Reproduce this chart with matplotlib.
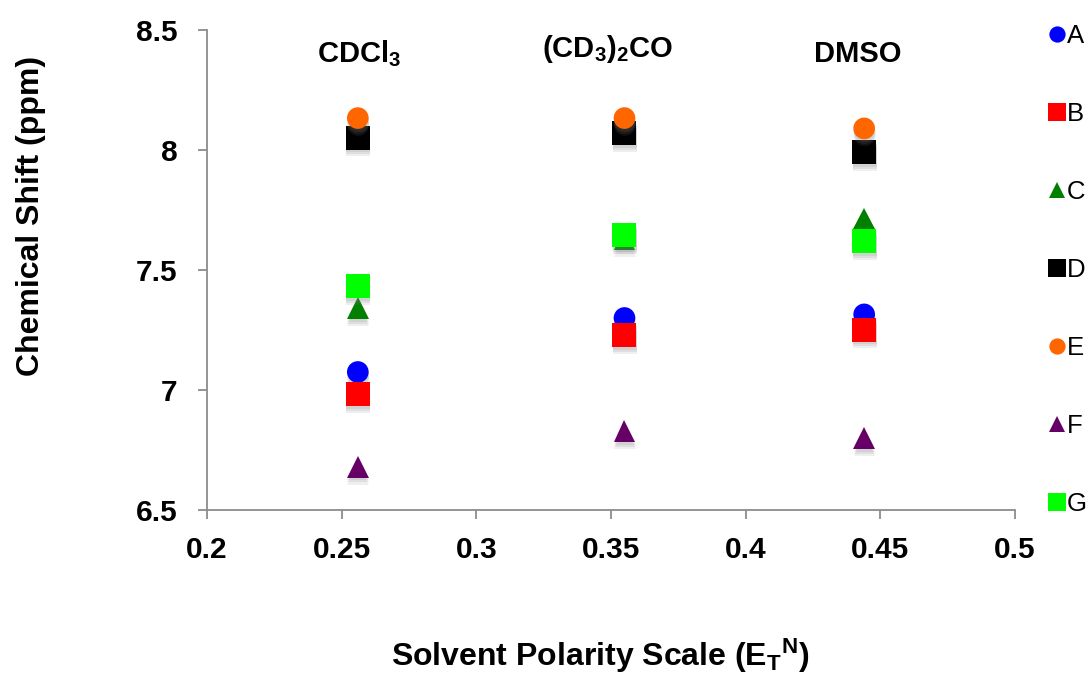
import numpy as np
import matplotlib
matplotlib.use('Agg')
import matplotlib.pyplot as plt
import matplotlib.patheffects as pe

# solvent polarity (E_T^N) for CDCl3, (CD3)2CO, DMSO
et_n = [0.256, 0.355, 0.444]
solvents = ['CDCl$_3$', '(CD$_3$)$_2$CO', 'DMSO']

# chemical shifts (ppm) of the protons A-G in each solvent
shift_A = [7.075, 7.30, 7.315]
shift_B = [6.983, 7.23, 7.252]
shift_C = [7.342, 7.63, 7.714]
shift_D = [8.052, 8.07, 7.99]
shift_E = [8.133, 8.133, 8.09]
shift_F = [6.68, 6.828, 6.80]
shift_G = [7.433, 7.644, 7.622]

labels = ['A', 'B', 'C', 'D', 'E', 'F', 'G']
series = [shift_A, shift_B, shift_C, shift_D, shift_E, shift_F, shift_G]
markers = ['o', 's', '^', 's', 'o', '^', 's']
sizes = [15.6, 17.3, 15.6, 17.3, 15.6, 15.6, 17.3]
colors = ['#0000ff', '#ff0000', '#007f00', '#000000', '#ff6600', '#660066', '#00ff00']

plt.rcParams['font.family'] = ['Liberation Sans', 'DejaVu Sans']
plt.rcParams['mathtext.fontset'] = 'custom'
plt.rcParams['mathtext.rm'] = 'Liberation Sans:bold'
plt.rcParams['mathtext.bf'] = 'Liberation Sans:bold'
plt.rcParams['mathtext.it'] = 'Liberation Sans:bold'
plt.rcParams['mathtext.default'] = 'bf'

fig = plt.figure(figsize=(10.92, 6.75), dpi=100)
ax = fig.add_axes([207 / 1092, 1 - 510 / 675, 808 / 1092, 480 / 675])

# soft drop shadow under each marker
shadow = [pe.SimplePatchShadow(offset=(0.3, -2), shadow_rgbFace='#808080', alpha=0.14),
          pe.SimplePatchShadow(offset=(0.3, -3.5), shadow_rgbFace='#808080', alpha=0.14),
          pe.SimplePatchShadow(offset=(0.3, -5), shadow_rgbFace='#808080', alpha=0.12),
          pe.Normal()]

for lab, ys, m, s, c in zip(labels, series, markers, sizes, colors):
    ax.plot(et_n, ys, linestyle='none', marker=m, markersize=s, color=c,
            markeredgewidth=0, label=lab, path_effects=shadow, clip_on=False)

ax.set_xlim(0.2, 0.5)
ax.set_ylim(6.5, 8.5)
ax.set_xticks([0.2, 0.25, 0.3, 0.35, 0.4, 0.45, 0.5])
ax.set_xticklabels(['0.2', '0.25', '0.3', '0.35', '0.4', '0.45', '0.5'])
ax.set_yticks([6.5, 7, 7.5, 8, 8.5])
ax.set_yticklabels(['6.5', '7', '7.5', '8', '8.5'])

for side in ['top', 'right']:
    ax.spines[side].set_visible(False)
for side in ['left', 'bottom']:
    ax.spines[side].set_color('#8c8c8c')
    ax.spines[side].set_linewidth(1.3)
ax.tick_params(direction='out', length=6.5, width=1.3, color='#8c8c8c',
               labelsize=21.5, pad=12)
ax.tick_params(axis='y', pad=14.5)
for t in ax.get_xticklabels() + ax.get_yticklabels():
    t.set_fontweight('bold')

ax.set_xlabel('Solvent Polarity Scale (E$_T$$^N$)', fontsize=23, fontweight='bold')
ax.xaxis.set_label_coords(0.487, -0.264)
ax.set_ylabel('Chemical Shift (ppm)', fontsize=23, fontweight='bold')
ax.yaxis.set_label_coords(-0.199, 0.6125)

# solvent names above each column
name_x = [0.2565, 0.3485, 0.4415]
name_y = [8.367, 8.388, 8.367]
for x, y, name in zip(name_x, name_y, solvents):
    ax.text(x, y, name, ha='center', va='baseline', fontsize=21, fontweight='bold')

leg = fig.legend(loc='upper left', bbox_to_anchor=(1051 / 1092, 1 - 24 / 675),
                 frameon=False, fontsize=18.5, markerscale=0.75, handlelength=0.5,
                 handletextpad=0.12, labelspacing=2.1, borderaxespad=0, borderpad=0)
for h in leg.legend_handles:
    h.set_path_effects([])

fig.savefig('out.png', dpi=100)
